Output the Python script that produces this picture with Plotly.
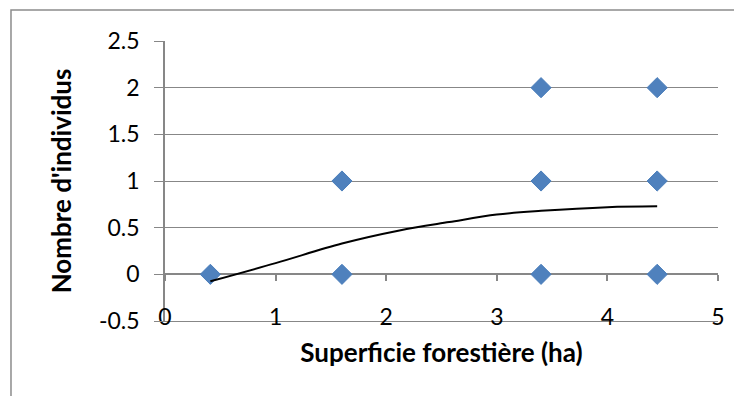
import plotly.graph_objects as go

# observations (superficie forestière en ha, nombre d'individus)
superficie = [0.41, 1.6, 1.6, 3.4, 3.4, 3.4, 4.45, 4.45, 4.45]
individus = [0, 0, 1, 0, 1, 2, 0, 1, 2]

# courbe de tendance
tend_x = [0.41, 1.0, 1.6, 2.12, 2.57, 3.0, 3.4, 4.0, 4.45]
tend_y = [-0.075, 0.12, 0.33, 0.47, 0.56, 0.64, 0.68, 0.72, 0.73]

# graduations
x_ticks = [0, 1, 2, 3, 4, 5]
y_ticks = [-0.5, 0, 0.5, 1, 1.5, 2, 2.5]
y_labels = ["-0.5", "0", "0.5", "1", "1.5", "2", "2.5"]

x_range = [0, 5]
y_range = [-0.5, 2.5]

gris = "#878787"
bleu = "#4F81BD"
police = "Lato"
taille = 23
taille_titre = 26

fig = go.Figure()

# trace invisible pour que l'axe principal (étiquettes en bas) soit dessiné
fig.add_trace(go.Scatter(
    x=superficie[:1], y=individus[:1], mode="markers",
    marker=dict(opacity=0), showlegend=False, hoverinfo="skip",
))
fig.add_trace(go.Scatter(
    x=superficie, y=individus, mode="markers",
    marker=dict(symbol="diamond", size=15.5, color=bleu,
                line=dict(color="#4A7EBB", width=1)),
    xaxis="x2", showlegend=False,
))
fig.add_trace(go.Scatter(
    x=tend_x, y=tend_y, mode="lines", line_shape="spline",
    line=dict(color="black", width=2),
    xaxis="x2", showlegend=False, hoverinfo="skip",
))

# position de l'axe horizontal (croise à y = 0)
pos_zero = (0 - y_range[0]) / (y_range[1] - y_range[0])

fig.update_layout(
    width=734, height=388,
    margin=dict(l=157, r=24, t=33, b=75),
    paper_bgcolor="white", plot_bgcolor="white",
    font=dict(family=police, size=taille, color="black"),
    xaxis=dict(
        range=x_range, tickvals=x_ticks, showgrid=False, zeroline=False,
        showline=True, linecolor=gris, linewidth=1.2, ticks="",
        ticklabelstandoff=-25, tickfont=dict(size=taille),
        title=dict(text="<b>Superficie forestière (ha)</b>",
                   font=dict(size=taille_titre), standoff=15),
    ),
    xaxis2=dict(
        range=x_range, tickvals=x_ticks, overlaying="x", anchor="free",
        position=pos_zero, side="bottom", showgrid=False, zeroline=False,
        showline=True, linecolor=gris, linewidth=1.5, layer="below traces",
        ticks="outside", ticklen=6, tickcolor=gris, tickwidth=1.5,
        showticklabels=False,
    ),
    yaxis=dict(
        range=y_range, tickvals=y_ticks, ticktext=y_labels,
        showgrid=True, gridcolor=gris, gridwidth=1.2,
        zeroline=False, showline=True, linecolor=gris, linewidth=1.5,
        ticks="outside", ticklen=9, tickcolor=gris, tickwidth=1.2,
        ticklabelstandoff=10, tickfont=dict(size=taille),
        title=dict(text="<b>Nombre d'individus</b>",
                   font=dict(size=taille_titre), standoff=20),
    ),
    shapes=[dict(
        type="rect", xref="paper", yref="paper",
        x0=-0.2785, x1=1.2, y0=-0.4, y1=1.111,
        line=dict(color="#8C8C8C", width=1.5), layer="below",
    )],
)

fig.write_html("out.html")
